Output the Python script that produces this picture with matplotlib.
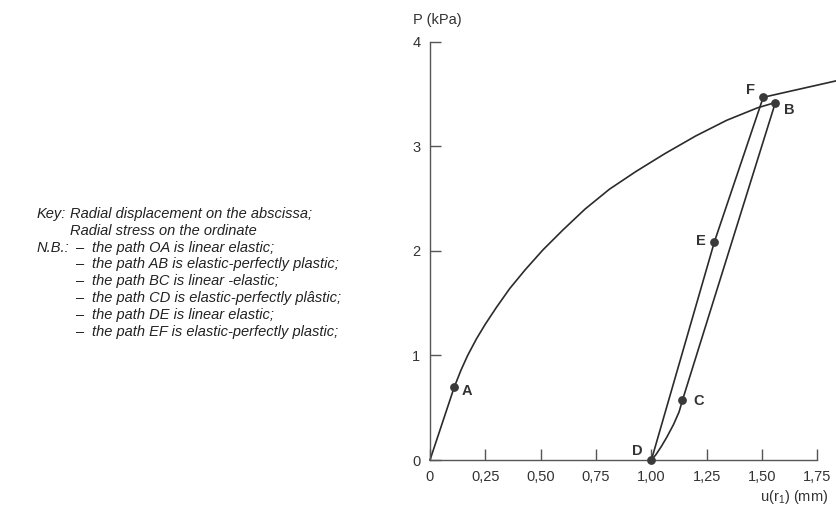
import matplotlib.pyplot as plt

plt.rcParams['font.family'] = ['Liberation Sans', 'DejaVu Sans']
plt.rcParams['mathtext.default'] = 'regular'

W, H = 836, 508

# loading curve O-A (linear) then A-B (plastic)
load_x = [0.0, 0.11, 0.14, 0.17, 0.21, 0.25, 0.30, 0.36, 0.43, 0.51, 0.60,
          0.70, 0.81, 0.93, 1.06, 1.20, 1.34, 1.48, 1.56]
load_y = [0.0, 0.70, 0.86, 1.00, 1.16, 1.30, 1.46, 1.64, 1.82, 2.01, 2.20,
          2.40, 2.59, 2.76, 2.93, 3.10, 3.25, 3.37, 3.42]

# unloading B-C (linear) then C-D
unload_x = [1.56, 1.14, 1.125, 1.10, 1.07, 1.045, 1.02, 1.00]
unload_y = [3.42, 0.57, 0.46, 0.34, 0.22, 0.13, 0.05, 0.00]

# reloading D-E-F, then continued plastic branch past F
reload_x = [1.00, 1.285, 1.505, 1.84]
reload_y = [0.00, 2.09, 3.47, 3.63]

pt_names = ['A', 'B', 'C', 'D', 'E', 'F']
pt_x = [0.11, 1.56, 1.14, 1.00, 1.285, 1.505]
pt_y = [0.70, 3.42, 0.57, 0.00, 2.09, 3.47]
pt_offsets = [(13, -4), (14, -7), (16, -1), (-14, 9), (-14, 1), (-13, 7)]

x_ticks = [0, 0.25, 0.50, 0.75, 1.00, 1.25, 1.50, 1.75]
x_tick_labels = ['0', '0,25', '0,50', '0,75', '1,00', '1,25', '1,50', '1,75']
y_ticks = [0, 1, 2, 3, 4]

key_lines = [
    ('Key:', 'Radial displacement on the abscissa;'),
    ('', 'Radial stress on the ordinate'),
]
nb_lines = [
    'the path OA is linear elastic;',
    'the path AB is elastic-perfectly plastic;',
    'the path BC is linear -elastic;',
    'the path CD is elastic-perfectly plâstic;',
    'the path DE is linear elastic;',
    'the path EF is elastic-perfectly plastic;',
]

ink = '#2b2b2b'

fig = plt.figure(figsize=(W / 100, H / 100), dpi=100)
ax = fig.add_axes([430 / W, 48 / H, (W - 430) / W, 439 / H])
ax.set_xlim(0, 406 / 221.4)
ax.set_ylim(0, 4.2)

for xs, ys in [(load_x, load_y), (unload_x, unload_y), (reload_x, reload_y)]:
    ax.plot(xs, ys, color=ink, lw=1.2, clip_on=False, solid_joinstyle='round')
ax.scatter(pt_x, pt_y, s=28, color='#3a3a3a', zorder=5, clip_on=False)

for name, x, y, off in zip(pt_names, pt_x, pt_y, pt_offsets):
    ax.annotate(name, (x, y), xytext=off, textcoords='offset pixels',
                ha='center', va='center', fontsize=10.5, fontweight='bold',
                color='#333333')

for s in ['top', 'right']:
    ax.spines[s].set_visible(False)
ax.spines['left'].set_bounds(0, 4)
ax.spines['bottom'].set_bounds(0, 1.75)
for s in ['left', 'bottom']:
    ax.spines[s].set_color('#555555')
    ax.spines[s].set_linewidth(1.0)

ax.set_xticks(x_ticks)
ax.set_xticklabels(x_tick_labels)
ax.set_yticks(y_ticks)
ax.tick_params(direction='in', length=8, width=1, color='#555555',
               labelsize=10.5, labelcolor='#333333', pad=7)

fig.text(413 / W, 1 - 20 / H, 'P (kPa)', fontsize=10.5, color='#333333',
         ha='left', va='center')
fig.text(828 / W, 1 - 497 / H, 'u(r$_1$) (mm)', fontsize=10.5,
         color='#333333', ha='right', va='center')

# key / notes block
fs = 10.5
line_h = 16.8
y0 = 214
row = 0
for lab, txt in key_lines:
    yy = 1 - (y0 + row * line_h) / H
    if lab:
        fig.text(37 / W, yy, lab, fontsize=fs, style='italic', color='#222222', va='center')
    fig.text(70 / W, yy, txt, fontsize=fs, style='italic', color='#222222', va='center')
    row += 1
for i, txt in enumerate(nb_lines):
    yy = 1 - (y0 + row * line_h) / H
    if i == 0:
        fig.text(37 / W, yy, 'N.B.:', fontsize=fs, style='italic', color='#222222', va='center')
    fig.text(76 / W, yy, '\u2013', fontsize=fs, color='#222222', va='center')
    fig.text(92 / W, yy, txt, fontsize=fs, style='italic', color='#222222', va='center')
    row += 1

fig.savefig('out.png', dpi=100)
